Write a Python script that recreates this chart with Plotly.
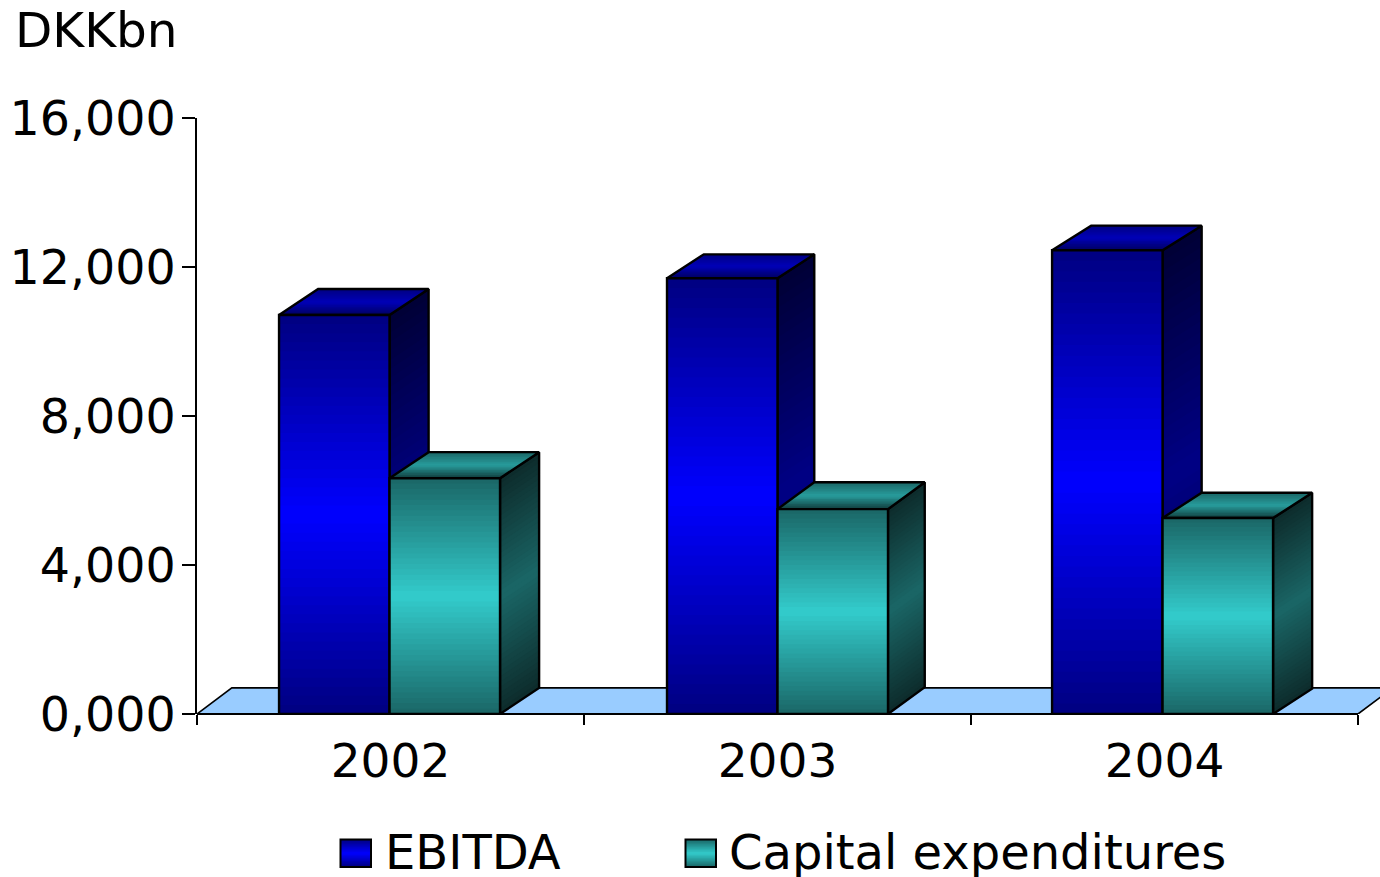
import plotly.graph_objects as go

years = ["2002", "2003", "2004"]
ebitda = [10710, 11700, 12450]
capex = [6330, 5500, 5260]
y_ticks = [0, 4000, 8000, 12000, 16000]
y_labels = ["0,000", "4,000", "8,000", "12,000", "16,000"]
series_names = ["EBITDA", "Capital expenditures"]

W, H = 1380, 877
L, AX_R, T, B = 197, 1358, 118, 714
CAT_PX = (AX_R - L) / 3
X_MAX = (W - L) / CAT_PX
BAR_W = 0.2855
OFFS = [0.212, 0.2145, 0.2095]
DXS = [0.101, 0.095, 0.101]
DYS_E = [700, 640, 660]
DYS_C = [700, 720, 680]
FLOOR_DX, FLOOR_DY = 0.09, 700
N = 44

STY = [
    dict(front=("#000080", "#0000FF"), side=("#000035", "#000085"), top=("#000080", "#0000B8", "#000060")),
    dict(front=("#1A6666", "#33CCCC"), side=("#0D2B2B", "#1A6666"), top=("#1A6666", "#289C9C", "#103C3C")),
]


def hex2(c):
    return [int(c[i:i + 2], 16) for i in (1, 3, 5)]


def mix(a, b, t):
    pa, pb = hex2(a), hex2(b)
    return "rgb(%d,%d,%d)" % tuple(round(x + (y - x) * t) for x, y in zip(pa, pb))


def mirrored(c0, c1, t):
    return mix(c0, c1, 1 - abs(2 * t - 1))


fig = go.Figure()


def poly(xs, ys, color):
    fig.add_trace(go.Scatter(x=xs + xs[:1], y=ys + ys[:1], mode="lines", fill="toself", fillcolor=color,
                             line=dict(width=0), hoverinfo="skip", showlegend=False))


def outline(xs, ys, width=2.4, color="#000000"):
    fig.add_trace(go.Scatter(x=xs + xs[:1], y=ys + ys[:1], mode="lines", line=dict(width=width, color=color),
                             hoverinfo="skip", showlegend=False))


def draw_bar(x0, value, sty, DX, DY):
    x1 = x0 + BAR_W
    for k in range(N):
        a, b = k / N, min(1, (k + 2) / N)
        poly([x1, x1 + DX, x1 + DX, x1],
             [value * a, value * a + DY, value * b + DY, value * b],
             mirrored(*sty["side"], (k + .5) / N))
    outline([x1, x1 + DX, x1 + DX, x1], [0, DY, value + DY, value])
    m = 16
    c0, c1, c2 = sty["top"]
    for k in range(m):
        a, b = k / m, min(1, (k + 2) / m)
        t = (k + .5) / m
        col = mix(c2, c1, t * 2) if t < .5 else mix(c1, c0, t * 2 - 1)
        poly([x0 + DX * a, x1 + DX * a, x1 + DX * b, x0 + DX * b],
             [value + DY * a, value + DY * a, value + DY * b, value + DY * b], col)
    outline([x0, x1, x1 + DX, x0 + DX], [value, value, value + DY, value + DY])
    for k in range(N):
        a, b = k / N, min(1, (k + 2) / N)
        poly([x0, x1, x1, x0], [value * a, value * a, value * b, value * b],
             mirrored(*sty["front"], (k + .5) / N))
    outline([x0, x1, x1, x0], [0, 0, value, value])


n = len(years)
poly([0, n, n + FLOOR_DX, FLOOR_DX], [0, 0, FLOOR_DY, FLOOR_DY], "#99CCFF")
outline([0, n, n + FLOOR_DX, FLOOR_DX], [0, 0, FLOOR_DY, FLOOR_DY], width=1.6)

for i in range(n):
    draw_bar(i + OFFS[i], ebitda[i], STY[0], DXS[i], DYS_E[i])
    draw_bar(i + OFFS[i] + BAR_W, capex[i], STY[1], DXS[i], DYS_C[i])

for name, lw in zip(series_names, [299, 520]):
    fig.add_trace(go.Scatter(x=[None], y=[None], mode="markers", name=name, legendwidth=lw,
                             marker=dict(symbol="square", size=1, color="rgba(0,0,0,0)"),
                             hoverinfo="skip", showlegend=True))


def px(x):
    return (x - L) / (W - L)


def py(y):
    return (B - y) / (B - T)


shapes = [dict(type="line", xref="paper", yref="paper", x0=0, x1=px(AX_R), y0=0, y1=0,
               line=dict(width=1.8, color="#000000"), layer="above")]
for (x0, x1), sty in zip([(340.5, 371), (685.5, 716)], STY):
    y0, y1 = 839.5, 867
    m = 18
    for k in range(m):
        a, b = y0 + (y1 - y0) * k / m, y0 + (y1 - y0) * min(1, (k + 2) / m)
        shapes.append(dict(type="rect", xref="paper", yref="paper", x0=px(x0), x1=px(x1), y0=py(a), y1=py(b),
                           fillcolor=mirrored(*sty["front"], (k + .5) / m), line=dict(width=0), layer="above"))
    shapes.append(dict(type="rect", xref="paper", yref="paper", x0=px(x0), x1=px(x1), y0=py(y0), y1=py(y1),
                       line=dict(width=2, color="#000000"), fillcolor="rgba(0,0,0,0)", layer="above"))

FONT = "DejaVu Sans"
fig.update_layout(
    width=W, height=H,
    autosize=False,
    margin=dict(l=L, r=0, t=T, b=H - B, pad=0),
    paper_bgcolor="#FFFFFF", plot_bgcolor="#FFFFFF",
    font=dict(family=FONT, size=47, color="#000000"),
    title=dict(text="DKKbn", x=15 / W, xanchor="left", xref="container",
               y=1 - 30 / H, yanchor="middle", yref="container", font=dict(family=FONT, size=48.5, color="#000000")),
    showlegend=True,
    legend=dict(orientation="h", xref="container", yref="container", x=345 / W, xanchor="left",
                y=1 - 813 / H, yanchor="top",
                font=dict(family=FONT, size=48, color="#000000"),
                itemwidth=30, bgcolor="rgba(0,0,0,0)", borderwidth=0),
    shapes=shapes,
    xaxis=dict(range=[0, X_MAX], tickmode="array", tickvals=[0.5, 1.5, 2.5], ticktext=years, ticks="",
               showgrid=False, zeroline=False, showline=False,
               tickfont=dict(family=FONT, size=47, color="#000000"), ticklabelstandoff=15,
               automargin=False,
               minor=dict(tickmode="array", tickvals=[0, 1, 2, 3], ticks="outside", ticklen=10, tickwidth=1.6,
                          tickcolor="#000000", showgrid=False)),
    yaxis=dict(range=[0, 16000], tickmode="array", tickvals=y_ticks, ticktext=y_labels, ticks="outside",
               ticklen=13, tickwidth=1.6, tickcolor="#000000", showgrid=False, zeroline=False, showline=True,
               linecolor="#000000", linewidth=1.6, automargin=False,
               tickfont=dict(family=FONT, size=47.5, color="#000000"), ticklabelstandoff=-3),
)

fig.write_html("out.html", config={"displayModeBar": False},
               post_script="document.body.style.margin='0';document.documentElement.style.overflow='hidden';")
